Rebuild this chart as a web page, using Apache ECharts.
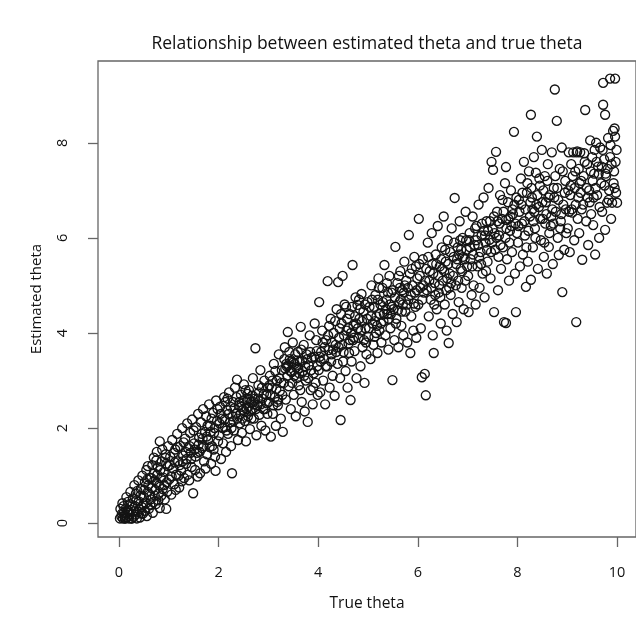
<!DOCTYPE html>
<html>
<head>
<meta charset="utf-8">
<script src="https://cdn.jsdelivr.net/npm/echarts@6/dist/echarts.min.js"></script>
<style>html,body{margin:0;padding:0;background:#fff}#c{width:636px;height:628px}</style>
</head>
<body>
<div id="c"></div>
<script>
// [true theta, estimated theta], grouped by true-theta range
const band0to1 = [[0.02,0.10],[0.05,0.14],[0.08,0.10],[0.10,0.22],[0.12,0.10],[0.14,0.31],[0.16,0.12],[0.18,0.45],[0.20,0.10],[0.22,0.18],[0.24,0.28],[0.26,0.10],[0.28,0.52],[0.30,0.14],[0.32,0.36],[0.34,0.62],[0.36,0.10],[0.38,0.24],[0.40,0.46],[0.42,0.12],[0.44,0.72],[0.46,0.34],[0.48,0.20],[0.50,0.55],[0.52,0.86],[0.54,0.42],[0.56,0.15],[0.58,0.66],[0.60,0.30],[0.62,0.95],[0.64,0.50],[0.66,0.74],[0.68,0.22],[0.70,1.05],[0.72,0.58],[0.74,0.40],[0.76,0.85],[0.78,1.18],[0.80,0.62],[0.82,0.32],[0.84,0.95],[0.86,1.30],[0.88,0.72],[0.90,1.08],[0.92,0.50],[0.94,1.45],[0.96,0.86],[0.98,1.20],[0.03,0.30],[0.07,0.42],[0.11,0.16],[0.15,0.55],[0.19,0.26],[0.23,0.66],[0.27,0.38],[0.31,0.80],[0.35,0.48],[0.39,0.90],[0.43,0.58],[0.47,1.00],[0.51,0.70],[0.55,1.12],[0.59,0.80],[0.63,0.38],[0.67,1.22],[0.71,0.90],[0.75,1.32],[0.79,0.48],[0.83,1.12],[0.87,1.55],[0.91,0.80],[0.95,1.25],[0.99,1.62],[0.13,0.10],[0.25,0.10],[0.06,0.20],[0.09,0.36],[0.17,0.22],[0.21,0.40],[0.29,0.25],[0.33,0.18],[0.37,0.68],[0.41,0.30],[0.45,0.20],[0.49,0.40],[0.53,0.26],[0.57,0.92],[0.61,0.60],[0.65,0.95],[0.69,0.44],[0.73,0.70],[0.77,1.02],[0.81,0.80],[0.85,0.58],[0.89,0.96],[0.93,1.38],[0.97,0.66],[0.95,0.30],[0.82,1.72],[0.76,1.50],[0.70,1.38],[0.58,1.20]];
const band1to2 = [[1.01,0.92],[1.03,1.40],[1.05,0.60],[1.07,1.75],[1.09,1.15],[1.11,0.82],[1.13,1.55],[1.15,1.02],[1.17,1.88],[1.19,1.30],[1.21,0.75],[1.23,1.62],[1.25,1.10],[1.27,2.00],[1.29,1.42],[1.31,0.95],[1.33,1.78],[1.35,1.25],[1.37,2.10],[1.39,1.58],[1.41,0.90],[1.43,1.90],[1.45,1.35],[1.47,2.18],[1.49,0.63],[1.51,1.68],[1.53,1.12],[1.55,2.02],[1.57,1.48],[1.59,2.30],[1.61,1.80],[1.63,1.05],[1.65,2.12],[1.67,1.58],[1.69,2.40],[1.71,1.30],[1.73,1.92],[1.75,2.25],[1.77,1.45],[1.79,1.75],[1.81,2.50],[1.83,2.05],[1.85,1.25],[1.87,1.62],[1.89,2.32],[1.91,1.90],[1.93,1.40],[1.95,2.58],[1.97,2.15],[1.99,1.72],[1.02,1.22],[1.06,0.98],[1.10,1.48],[1.14,0.70],[1.18,1.60],[1.22,1.22],[1.26,0.88],[1.30,1.70],[1.34,1.50],[1.38,1.02],[1.42,1.62],[1.46,1.18],[1.50,1.95],[1.54,1.40],[1.58,0.98],[1.62,1.50],[1.66,1.88],[1.70,1.62],[1.74,1.15],[1.78,2.05],[1.82,1.60],[1.86,2.20],[1.90,1.55],[1.94,1.10],[1.98,2.40],[1.12,1.28],[1.28,1.30],[1.44,1.48],[1.60,1.65],[1.76,1.82],[1.92,2.00],[1.20,1.00],[1.36,1.35],[1.52,1.55],[1.68,1.78],[1.84,1.92]];
const band2to3 = [[2.01,1.85],[2.03,2.45],[2.05,1.35],[2.07,2.20],[2.09,1.68],[2.11,2.65],[2.13,2.02],[2.15,1.50],[2.17,2.38],[2.19,1.88],[2.21,2.75],[2.23,2.12],[2.25,1.62],[2.27,1.05],[2.29,2.55],[2.31,1.95],[2.33,2.85],[2.35,2.30],[2.37,3.02],[2.39,1.75],[2.41,2.48],[2.43,2.10],[2.45,2.70],[2.47,1.90],[2.49,2.38],[2.51,2.92],[2.53,2.15],[2.55,1.72],[2.57,2.60],[2.59,2.25],[2.61,2.80],[2.63,1.98],[2.65,2.55],[2.67,2.40],[2.69,3.05],[2.71,2.20],[2.73,2.62],[2.74,3.68],[2.76,1.85],[2.78,2.48],[2.80,2.90],[2.82,2.28],[2.84,3.22],[2.86,2.05],[2.88,2.62],[2.90,2.40],[2.92,3.00],[2.94,1.95],[2.96,2.70],[2.98,2.30],[2.02,2.10],[2.08,2.00],[2.14,2.55],[2.20,2.30],[2.26,2.00],[2.32,2.42],[2.38,2.20],[2.44,2.30],[2.50,2.58],[2.56,2.40],[2.62,2.60],[2.68,2.68],[2.72,2.50],[2.79,2.62],[2.85,2.50],[2.91,2.72],[2.97,2.52],[2.58,2.72],[2.64,2.35],[2.70,2.55],[2.04,2.30],[2.12,2.18],[2.18,2.62],[2.24,2.45],[2.30,2.15],[2.36,2.65],[2.42,2.55],[2.48,2.20],[2.54,2.80],[2.60,2.45],[2.66,2.20],[2.75,2.40],[2.81,2.75],[2.87,2.85],[2.93,2.40],[2.99,2.85],[2.46,2.45],[2.52,2.35],[2.28,2.25],[2.16,1.95]];
const band3to4 = [[3.01,2.55],[3.03,3.10],[3.05,1.82],[3.07,2.85],[3.09,2.30],[3.11,3.35],[3.13,2.65],[3.15,2.05],[3.17,3.00],[3.19,2.48],[3.21,3.55],[3.23,2.78],[3.25,2.20],[3.27,3.22],[3.29,1.92],[3.31,2.95],[3.33,3.70],[3.35,2.60],[3.37,3.30],[3.39,4.02],[3.41,2.88],[3.43,3.45],[3.45,2.40],[3.47,3.18],[3.49,3.80],[3.51,2.70],[3.53,3.35],[3.55,2.25],[3.57,3.05],[3.59,3.60],[3.61,2.90],[3.63,3.40],[3.65,4.13],[3.67,2.55],[3.69,3.20],[3.71,3.75],[3.73,2.35],[3.75,3.00],[3.77,3.55],[3.79,2.13],[3.81,3.32],[3.83,3.95],[3.85,2.80],[3.87,3.48],[3.89,2.50],[3.91,3.15],[3.93,4.20],[3.95,2.95],[3.97,3.62],[3.99,2.70],[3.04,2.70],[3.10,2.48],[3.16,2.82],[3.22,3.05],[3.28,2.70],[3.34,3.25],[3.40,3.32],[3.44,3.20],[3.50,3.38],[3.56,3.28],[3.62,3.15],[3.68,3.42],[3.74,3.30],[3.80,3.05],[3.86,3.22],[3.92,3.50],[3.98,3.30],[3.46,3.40],[3.52,3.10],[3.58,3.42],[3.02,2.90],[3.08,3.00],[3.14,3.20],[3.20,2.60],[3.26,2.95],[3.32,3.45],[3.38,3.10],[3.42,3.60],[3.48,2.95],[3.54,3.55],[3.60,3.25],[3.66,3.65],[3.72,3.10],[3.78,3.45],[3.84,3.60],[3.90,2.85],[3.96,3.85],[3.36,3.35],[3.64,2.80],[3.18,2.55]];
const band4to5 = [[4.01,3.22],[4.02,4.65],[4.04,2.75],[4.06,3.60],[4.08,4.05],[4.10,3.00],[4.12,3.45],[4.14,2.50],[4.16,3.85],[4.18,3.30],[4.19,5.09],[4.21,3.64],[4.23,2.85],[4.25,4.30],[4.27,3.55],[4.29,3.10],[4.31,4.00],[4.33,2.68],[4.35,3.75],[4.37,4.50],[4.39,3.35],[4.40,5.07],[4.42,3.90],[4.44,3.05],[4.45,2.17],[4.47,4.20],[4.49,5.20],[4.51,3.60],[4.53,4.60],[4.55,3.20],[4.57,4.05],[4.59,2.85],[4.61,3.78],[4.63,4.40],[4.65,2.59],[4.67,3.40],[4.69,5.43],[4.71,4.15],[4.73,3.62],[4.75,4.75],[4.77,3.05],[4.79,4.59],[4.81,3.90],[4.83,4.30],[4.85,3.30],[4.87,4.82],[4.89,3.70],[4.91,4.45],[4.93,2.95],[4.95,4.10],[4.97,3.55],[4.99,4.65],[4.05,3.40],[4.13,3.70],[4.20,3.95],[4.28,3.80],[4.36,3.60],[4.43,4.10],[4.52,3.95],[4.58,4.30],[4.66,4.00],[4.74,4.35],[4.80,4.10],[4.86,4.05],[4.92,3.85],[4.98,4.30],[4.48,3.75],[4.62,3.58],[4.70,3.85],[4.84,4.50],[4.03,3.50],[4.09,3.80],[4.15,3.30],[4.22,4.15],[4.30,3.65],[4.34,4.25],[4.41,3.70],[4.46,4.40],[4.50,3.40],[4.56,4.55],[4.60,4.10],[4.64,3.85],[4.68,4.55],[4.72,3.90],[4.76,4.20],[4.82,4.70],[4.88,4.25],[4.94,4.60],[4.96,3.80],[4.26,3.40]];
const band5to6 = [[5.01,3.92],[5.03,4.55],[5.05,3.45],[5.07,5.00],[5.09,4.20],[5.11,3.75],[5.13,3.92],[5.15,4.80],[5.17,4.35],[5.19,3.58],[5.21,5.15],[5.23,4.05],[5.25,4.60],[5.27,3.80],[5.29,4.95],[5.31,4.25],[5.33,5.43],[5.35,3.95],[5.37,4.70],[5.39,4.40],[5.41,3.65],[5.43,5.20],[5.45,4.10],[5.47,4.85],[5.49,3.01],[5.51,4.50],[5.53,3.85],[5.55,5.81],[5.57,4.30],[5.59,5.05],[5.61,3.70],[5.63,4.65],[5.65,5.30],[5.67,4.15],[5.69,4.90],[5.71,3.95],[5.73,5.50],[5.75,4.45],[5.77,5.10],[5.79,3.80],[5.81,4.70],[5.82,6.06],[5.84,5.25],[5.85,3.58],[5.87,4.35],[5.89,5.00],[5.91,4.05],[5.93,5.60],[5.95,4.55],[5.97,3.90],[5.99,5.15],[5.06,4.35],[5.12,4.55],[5.18,4.15],[5.24,4.40],[5.30,4.65],[5.36,4.50],[5.42,4.30],[5.48,4.55],[5.54,4.75],[5.60,4.48],[5.66,4.70],[5.72,4.85],[5.78,4.60],[5.86,4.80],[5.92,4.62],[5.98,4.90],[5.64,4.95],[5.40,4.85],[5.20,4.70],[5.02,4.10],[5.08,4.70],[5.14,4.25],[5.22,4.95],[5.26,4.20],[5.32,4.40],[5.38,5.05],[5.44,4.60],[5.50,4.90],[5.56,4.20],[5.62,5.20],[5.68,4.45],[5.74,5.00],[5.80,4.95],[5.88,5.35],[5.94,4.85],[5.96,5.40],[5.46,4.40],[5.16,4.00],[5.70,4.60]];
const band6to7 = [[6.01,4.60],[6.02,6.40],[6.04,5.20],[6.06,4.10],[6.08,3.07],[6.10,5.55],[6.12,4.85],[6.14,3.14],[6.16,2.69],[6.18,4.90],[6.20,5.90],[6.22,4.35],[6.24,5.30],[6.26,4.70],[6.28,6.10],[6.30,3.95],[6.32,3.58],[6.34,5.05],[6.36,5.65],[6.38,4.50],[6.40,6.25],[6.42,4.85],[6.44,5.40],[6.46,4.20],[6.48,5.80],[6.50,5.10],[6.52,6.45],[6.54,4.60],[6.56,5.50],[6.58,4.05],[6.60,5.95],[6.62,3.79],[6.64,5.25],[6.66,4.80],[6.68,6.20],[6.70,4.40],[6.72,5.60],[6.74,6.84],[6.76,5.00],[6.78,4.23],[6.80,5.80],[6.82,4.65],[6.84,6.35],[6.86,5.35],[6.88,4.95],[6.90,6.00],[6.92,4.50],[6.94,5.55],[6.96,6.55],[6.98,5.75],[6.05,4.95],[6.11,5.00],[6.17,5.35],[6.23,5.10],[6.29,5.45],[6.35,4.80],[6.41,5.20],[6.47,5.55],[6.53,5.30],[6.59,5.15],[6.65,5.70],[6.71,5.20],[6.77,5.45],[6.83,5.65],[6.89,5.30],[6.95,5.10],[6.99,5.40],[6.57,4.90],[6.33,4.60],[6.81,5.10],[6.03,5.45],[6.09,4.70],[6.15,5.10],[6.21,5.60],[6.27,4.95],[6.31,5.25],[6.37,5.45],[6.43,5.00],[6.49,5.35],[6.55,5.75],[6.61,5.45],[6.67,5.05],[6.73,5.90],[6.79,5.55],[6.85,5.95],[6.91,5.60],[6.97,5.95],[6.45,4.75],[6.63,4.95],[6.87,5.75]];
const band7to8 = [[7.01,5.20],[7.02,4.44],[7.04,6.10],[7.06,5.55],[7.08,4.80],[7.10,6.45],[7.12,5.00],[7.14,5.85],[7.16,4.60],[7.18,6.25],[7.20,5.40],[7.22,6.70],[7.24,4.95],[7.26,5.70],[7.28,6.05],[7.30,5.25],[7.32,6.85],[7.34,4.75],[7.36,5.90],[7.38,6.35],[7.40,5.50],[7.42,7.05],[7.44,5.96],[7.46,5.15],[7.48,7.60],[7.50,6.20],[7.51,7.43],[7.53,4.44],[7.55,5.75],[7.57,7.81],[7.59,6.55],[7.61,4.90],[7.63,6.05],[7.65,6.90],[7.67,5.35],[7.69,6.40],[7.71,5.80],[7.73,4.23],[7.75,7.15],[7.77,6.38],[7.77,7.49],[7.79,5.55],[7.81,6.75],[7.83,5.10],[7.85,6.15],[7.87,7.00],[7.89,5.70],[7.91,6.50],[7.93,8.23],[7.95,5.25],[7.97,4.44],[7.98,6.85],[7.77,4.21],[7.05,5.80],[7.11,5.65],[7.17,5.95],[7.23,5.60],[7.29,6.30],[7.35,6.05],[7.41,6.15],[7.47,5.70],[7.53,6.45],[7.58,6.00],[7.64,6.30],[7.70,6.80],[7.76,6.00],[7.82,6.40],[7.88,6.25],[7.94,6.70],[7.99,6.10],[7.03,5.95],[7.09,5.40],[7.15,6.20],[7.21,5.85],[7.27,5.45],[7.33,6.15],[7.39,5.75],[7.45,6.35],[7.49,5.90],[7.54,6.10],[7.60,6.35],[7.66,5.85],[7.72,6.55],[7.78,6.20],[7.84,5.90],[7.90,6.60],[7.96,6.30],[7.37,5.30],[7.62,5.60],[7.86,6.45]];
const band8to9 = [[8.01,5.90],[8.03,6.80],[8.05,5.40],[8.07,7.25],[8.09,6.30],[8.11,5.65],[8.13,7.60],[8.15,6.05],[8.17,4.97],[8.19,6.95],[8.21,5.50],[8.23,7.40],[8.25,6.45],[8.27,5.12],[8.27,8.59],[8.29,6.85],[8.31,5.80],[8.33,7.70],[8.35,6.20],[8.37,7.37],[8.39,8.13],[8.41,5.35],[8.43,6.65],[8.45,7.10],[8.47,5.95],[8.49,7.85],[8.51,6.40],[8.53,5.60],[8.55,7.30],[8.57,6.75],[8.59,5.25],[8.61,7.55],[8.63,5.81],[8.65,6.90],[8.67,6.25],[8.69,7.80],[8.71,5.45],[8.73,7.05],[8.75,9.12],[8.77,6.55],[8.79,8.46],[8.81,6.00],[8.83,5.64],[8.85,7.45],[8.87,6.35],[8.89,7.90],[8.90,4.86],[8.92,6.70],[8.94,5.75],[8.96,7.20],[8.98,6.10],[8.04,6.55],[8.10,6.95],[8.16,6.60],[8.22,6.15],[8.28,7.05],[8.34,6.55],[8.40,6.90],[8.46,6.40],[8.52,7.00],[8.58,6.50],[8.64,6.10],[8.70,6.60],[8.76,7.30],[8.82,6.80],[8.88,6.50],[8.95,6.95],[8.60,7.20],[8.36,6.00],[8.18,5.80],[8.02,6.25],[8.08,6.70],[8.14,6.35],[8.20,7.15],[8.26,6.75],[8.32,6.35],[8.38,6.70],[8.44,7.25],[8.50,6.75],[8.56,6.30],[8.62,6.85],[8.68,6.45],[8.74,6.85],[8.80,7.05],[8.86,6.20],[8.91,7.40],[8.97,6.60],[8.54,5.90],[8.72,6.30],[8.30,6.60]];
const band9to10 = [[9.01,6.20],[9.03,7.80],[9.05,5.70],[9.07,7.10],[9.09,6.60],[9.10,6.53],[9.12,7.80],[9.14,5.95],[9.16,7.40],[9.18,4.23],[9.20,7.82],[9.22,6.85],[9.24,6.10],[9.26,7.80],[9.28,7.20],[9.30,5.54],[9.32,6.70],[9.34,7.78],[9.36,8.69],[9.38,6.35],[9.40,7.55],[9.42,5.85],[9.44,7.00],[9.46,8.05],[9.48,6.50],[9.50,7.70],[9.52,6.27],[9.54,7.35],[9.56,5.65],[9.58,8.00],[9.60,6.90],[9.62,7.50],[9.64,6.00],[9.66,7.90],[9.68,7.15],[9.70,6.55],[9.72,8.80],[9.72,9.26],[9.74,7.65],[9.76,6.17],[9.76,8.59],[9.78,7.30],[9.80,6.74],[9.82,8.10],[9.84,7.00],[9.86,9.35],[9.86,7.70],[9.88,6.40],[9.90,6.74],[9.92,8.25],[9.94,7.40],[9.96,8.13],[9.96,9.35],[9.98,6.95],[9.99,7.85],[10.00,6.74],[9.97,7.60],[9.95,8.30],[9.06,6.90],[9.15,7.05],[9.21,6.40],[9.27,6.95],[9.33,7.30],[9.39,7.05],[9.45,6.75],[9.51,7.20],[9.57,7.05],[9.63,7.35],[9.69,7.50],[9.75,7.10],[9.81,7.45],[9.87,7.95],[9.93,7.15],[9.08,7.55],[9.02,7.00],[9.04,6.55],[9.11,7.30],[9.17,6.70],[9.23,7.45],[9.29,6.60],[9.35,7.60],[9.41,6.85],[9.47,7.40],[9.53,6.85],[9.59,7.60],[9.65,6.65],[9.71,7.85],[9.77,7.35],[9.83,6.80],[9.89,7.55],[9.95,7.05],[9.19,7.80],[9.25,7.15],[9.55,7.85]];

const xTicks = [0, 2, 4, 6, 8, 10];
const yTicks = [0, 2, 4, 6, 8];
const titleText = 'Relationship between estimated theta and true theta';
const xName = 'True theta';
const yName = 'Estimated theta';

const points = [].concat(band0to1, band1to2, band2to3, band3to4, band4to5,
  band5to6, band6to7, band7to8, band8to9, band9to10);

const FONT = 'Open Sans';
const chart = echarts.init(document.getElementById('c'), null, {renderer: 'canvas'});
chart.setOption({
  animation: false,
  backgroundColor: '#ffffff',
  graphic: [{
    type: 'text', x: 367, y: 44,
    style: {text: titleText, fill: '#111', font: '17.5px "' + FONT + '"', textAlign: 'center', textVerticalAlign: 'middle'}
  }],
  grid: {left: 98, top: 61, width: 543, bottom: 91, show: true, borderColor: '#666', borderWidth: 1.3, backgroundColor: 'transparent'},
  xAxis: {
    type: 'value', min: -0.42, max: 10.38,
    name: xName, nameLocation: 'middle', nameGap: 59,
    nameTextStyle: {fontFamily: FONT, fontSize: 15.5, color: '#111'},
    axisLine: {show: false, onZero: false},
    axisTick: {show: true, inside: false, length: 10, customValues: xTicks, lineStyle: {color: '#666', width: 1.3}},
    axisLabel: {customValues: xTicks, margin: 28, fontFamily: FONT, fontSize: 14.5, color: '#111'},
    splitLine: {show: false}
  },
  yAxis: {
    type: 'value', min: -0.29, max: 9.72,
    name: yName, nameLocation: 'middle', nameGap: 54,
    nameTextStyle: {fontFamily: FONT, fontSize: 15, color: '#111'},
    axisLine: {show: false, onZero: false},
    axisTick: {show: true, inside: false, length: 10, customValues: yTicks, lineStyle: {color: '#666', width: 1.3}},
    axisLabel: {customValues: yTicks, rotate: 90, margin: 28, fontFamily: FONT, fontSize: 14.5, color: '#111'},
    splitLine: {show: false}
  },
  series: [{
    type: 'scatter',
    data: points,
    symbol: 'circle',
    symbolSize: 9,
    clip: false,
    itemStyle: {color: 'rgba(0,0,0,0)', borderColor: '#141414', borderWidth: 1.35, opacity: 1},
    emphasis: {disabled: true}
  }]
});
</script>
</body>
</html>
